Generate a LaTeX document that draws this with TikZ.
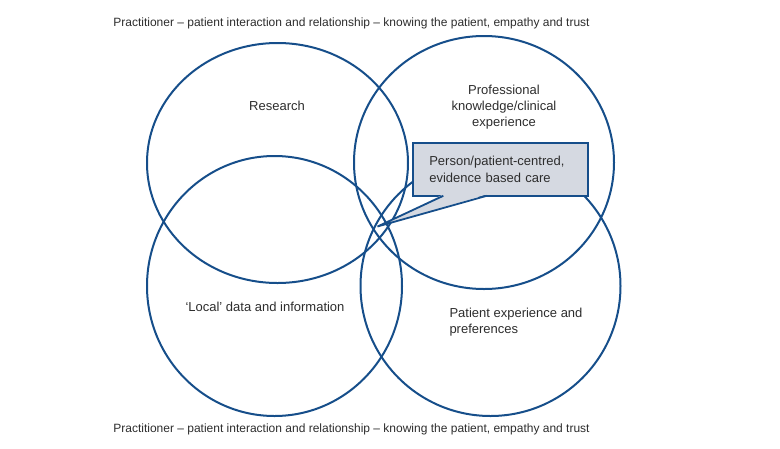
\documentclass[tikz,border=0pt]{standalone}
\usepackage{fontspec}
\setmainfont{Liberation Sans}
\usepackage{xcolor}
\definecolor{venblue}{RGB}{22, 78, 138}
\definecolor{calloutgrey}{RGB}{213, 217, 225}
\definecolor{textgrey}{RGB}{45, 45, 45}
\usepackage{tikz}
\usetikzlibrary{calc}

\begin{document}
\begin{tikzpicture}[x=1pt, y=-1pt,
        setring/.style={draw=venblue, line width=2pt},
        setlabel/.style={text=textgrey, font=\fontsize{13}{16}\selectfont, inner sep=0pt, anchor=base},
        framelabel/.style={setlabel, font=\fontsize{12}{14}\selectfont},
        carebox/.style={rectangle, fill=calloutgrey, draw=venblue, line width=2.2pt, outer sep=0pt, minimum width=175pt, minimum height=53pt, inner xsep=16pt, text width=143pt, align=left, text=textgrey, font=\fontsize{13}{16.3}\selectfont},
        pointer/.style={draw=venblue, line width=1.8pt, line join=miter}]

    \useasboundingbox (0,0) rectangle (780,448);

    % the four overlapping sets
    \draw [setring] (277.5,163) ellipse [x radius=130.5pt, y radius=120pt];
    \draw [setring] (484,162.5) ellipse [x radius=130pt, y radius=126.5pt];
    \draw [setring] (274.5,286) ellipse [x radius=127.5pt, y radius=130pt];
    \draw [setring] (490.5,286) ellipse [x radius=130pt, y radius=130pt];

    \node [framelabel] (relationtop) at (351.5,26) {Practitioner – patient interaction and relationship – knowing the patient, empathy and trust};
    \node [framelabel] (relationbottom) at (351.5,432.7) {Practitioner – patient interaction and relationship – knowing the patient, empathy and trust};

    % base anchor sits on the last line
    \node [setlabel] (research) at (277,110) {Research};
    \node [setlabel, align=center] (knowledge) at (504,126) {Professional\\knowledge/clinical\\experience};
    \node [setlabel] (local) at (265,311.7) {‘Local’ data and information};
    \node [setlabel, align=left, anchor=base west] (patient) at (449.3,333.3) {Patient experience and\\preferences};

    % callout
    \node [carebox] (care) at (500.8,169.3) {Person/patient-centred,\\evidence based care};
    \coordinate (tip) at (377.5,226.5);
    \fill [calloutgrey] ($(care.south west)+(30,-1.4)$) -- (tip) -- ($(care.south west)+(73.4,-1.4)$) -- cycle;
    \draw [pointer] ($(care.south west)+(30,0)$) -- (tip) -- ($(care.south west)+(73.4,0)$);
\end{tikzpicture}
\end{document}
